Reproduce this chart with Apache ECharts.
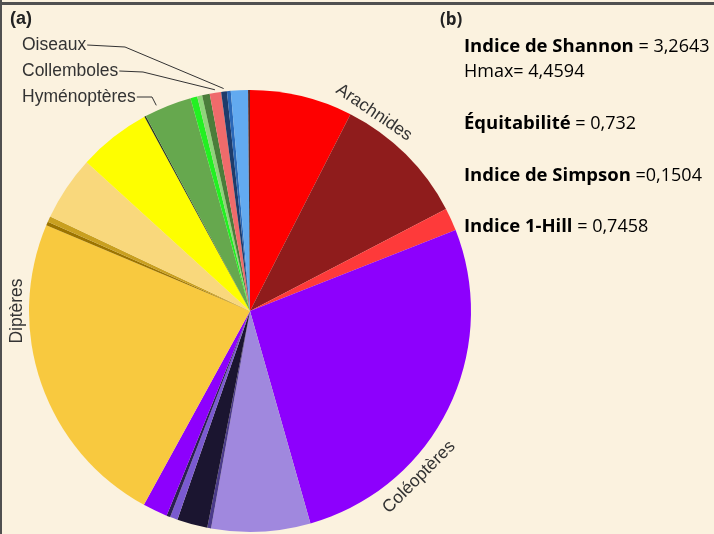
<!DOCTYPE html>
<html>
<head>
<meta charset="utf-8">
<script src="https://cdn.jsdelivr.net/npm/echarts@6/dist/echarts.min.js"></script>
<style>
html, body { margin: 0; padding: 0; background: #fbf2df; }
#chart { width: 714px; height: 534px; }
</style>
</head>
<body>
<div id="chart"></div>
<script>
var sliceValues = [27, 35.4, 6, 95.5, 26, 1, 8, 2, 1, 6.5, 84, 1, 1.5, 17, 19.1, 0.4, 12.5, 1.8, 1.3, 2, 3, 1.5, 1, 4.5, 0.5];
var sliceColors = ['#fe0000', '#8f1c1c', '#fe3a3a', '#8d00fd', '#a088de', '#4b3b8a', '#1b1530', '#7a5ad0', '#2a2050', '#8d00fd',
                   '#f8c93f', '#9c7400', '#c9a020', '#f9d87c', '#fefe00', '#2a3a20', '#66a84e', '#22f022', '#8fd47a', '#4a7d3a',
                   '#ef6b6b', '#1e3c6c', '#2a68b8', '#62aaf0', '#5a2828'];
var sliceLabels = ['', 'Arachnides', '', 'Coléoptères', '', '', '', '', '', '',
                   'Diptères', '', '', '', '', '', 'Hyménoptères', '', '', '',
                   'Collemboles', 'Oiseaux', '', '', ''];

// indices du panneau (b)
var statNames = ['Indice de Shannon', 'Hmax', 'Équitabilité', 'Indice de Simpson', 'Indice 1-Hill'];
var statSeps = [' = ', '= ', ' = ', ' =', ' = '];
var statValues = ['3,2643', '4,4594', '0,732', '0,1504', '0,7458'];
var statBold = [true, false, true, true, true];

var CX = 250, CY = 311, R = 221;

// étiquettes le long du cercle
var arcLabelLayout = {
    1: { angle: 32, r: 234, rotate: -34 },
    3: { angle: 134.5, r: 237, rotate: 45 },
    10: { angle: 270, r: 233, rotate: 90 }
};
// étiquettes à gauche avec trait de rappel
var calloutLayout = {
    21: { x: 22, y: 45, kneeX: 125, kneeY: 47, r: 224 },
    20: { x: 22, y: 71, kneeX: 143, kneeY: 72, r: 224 },
    16: { x: 22, y: 97, kneeX: 152, kneeY: 97, r: 226, angle: 335.5 }
};

var total = sliceValues.reduce(function (a, b) { return a + b; }, 0);
function midAngle(i) {
    var s = 0;
    for (var k = 0; k < i; k++) s += sliceValues[k];
    return (s + sliceValues[i] / 2) / total * 360;
}

var pieData = sliceValues.map(function (v, i) {
    var txt = sliceLabels[i];
    return {
        name: txt || ('s' + i),
        value: v,
        itemStyle: { color: sliceColors[i] },
        label: { show: !!txt },
        labelLine: { show: !!calloutLayout[i] }
    };
});

var chart = echarts.init(document.getElementById('chart'));

var graphics = [
    { type: 'line', shape: { x1: 0, y1: 3.5, x2: 714, y2: 3.5 }, style: { stroke: '#505050', lineWidth: 3 } },
    { type: 'line', shape: { x1: 1, y1: 0, x2: 1, y2: 534 }, style: { stroke: '#505050', lineWidth: 2 } },
    { type: 'text', x: 10, y: 19, style: { text: '(a)', font: 'bold 18px "Liberation Sans"', fill: '#222', verticalAlign: 'middle' } },
    { type: 'text', x: 440, y: 20, style: { text: '(b)', font: 'bold 17px "Open Sans"', fill: '#222', verticalAlign: 'middle' } }
];
var statY = [47, 72, 124, 176, 227];
statNames.forEach(function (n, i) {
    graphics.push({
        type: 'text', x: 464, y: statY[i],
        style: {
            text: '{' + (statBold[i] ? 'b' : 'n') + '|' + n + '}{n|' + statSeps[i] + statValues[i] + '}',
            verticalAlign: 'middle',
            rich: {
                b: { fontFamily: 'Open Sans', fontWeight: 'bold', fontSize: 18.5, color: '#222' },
                n: { fontFamily: 'Open Sans', fontSize: 18, color: '#444' }
            }
        }
    });
});

chart.setOption({
    backgroundColor: '#fbf2df',
    animation: false,
    graphic: graphics,
    series: [{
        type: 'pie',
        center: [CX, CY],
        radius: [0, R],
        startAngle: 90,
        clockwise: true,
        avoidLabelOverlap: false,
        emphasis: { disabled: true },
        label: {
            position: 'outside',
            fontFamily: 'Liberation Sans',
            fontSize: 17.5,
            color: '#333',
            formatter: function (p) { return sliceLabels[p.dataIndex]; }
        },
        labelLine: { lineStyle: { color: '#333', width: 1 } },
        labelLayout: function (params) {
            var i = params.dataIndex;
            var g = arcLabelLayout[i];
            if (g) {
                var a = g.angle * Math.PI / 180;
                return {
                    x: CX + g.r * Math.sin(a), y: CY - g.r * Math.cos(a),
                    rotate: g.rotate, align: 'center', verticalAlign: 'middle'
                };
            }
            var c = calloutLayout[i];
            if (c) {
                var m = (c.angle != null ? c.angle : midAngle(i)) * Math.PI / 180;
                var start = [CX + c.r * Math.sin(m), CY - c.r * Math.cos(m)];
                var textEnd = c.x + params.labelRect.width + 1;
                return {
                    x: c.x, y: c.y, align: 'left', verticalAlign: 'middle',
                    labelLinePoints: [start, [c.kneeX, c.kneeY], [textEnd, c.y]]
                };
            }
        },
        data: pieData
    }]
});
</script>
</body>
</html>
